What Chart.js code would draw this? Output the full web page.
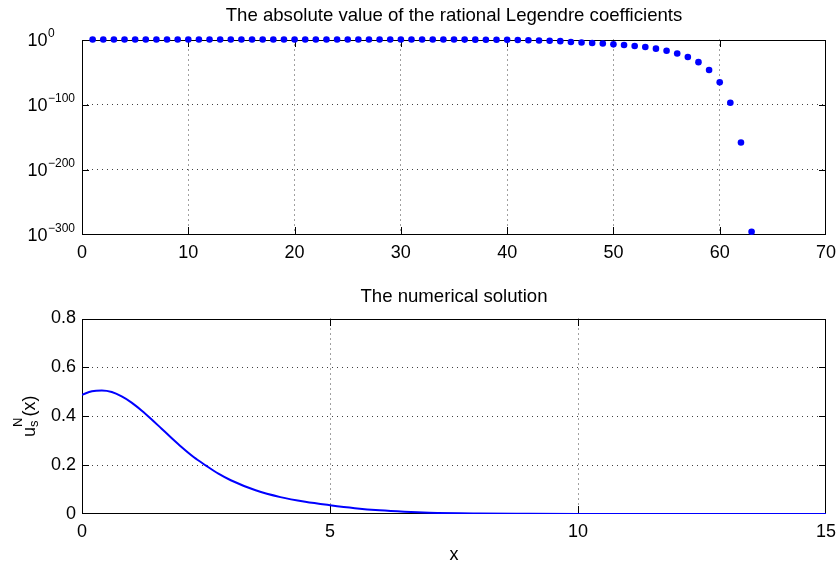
<!DOCTYPE html>
<html><head><meta charset="utf-8">
<script src="https://cdn.jsdelivr.net/npm/chart.js@4.4.1/dist/chart.umd.min.js"></script>
<style>
html,body{margin:0;padding:0;background:#fff;}
#wrap{position:relative;width:838px;height:568px;}
#c1{position:absolute;left:0;top:0;}
#c2{position:absolute;left:0;top:270px;}
</style></head><body>
<div id="wrap"><canvas id="c1" width="838" height="270"></canvas><canvas id="c2" width="838" height="298"></canvas></div>
<script>
// ---- data ----
const coefIndex = [1,2,3,4,5,6,7,8,9,10,11,12,13,14,15,16,17,18,19,20,21,22,23,24,25,26,27,28,29,30,31,32,33,34,35,36,37,38,39,40,41,42,43,44,45,46,47,48,49,50,51,52,53,54,55,56,57,58,59,60,61,62,63];
// log10 of |coefficient|
const coefLog10 = [0,0,0,0,0,0,0,0,0,0,0,0,0,0,0,0,0,0,0,0,0,0,0,0,0,0,0,0,0,0,0,0,0,0,0,-0.1,-0.2,-0.3,-0.4,-0.5,-0.8,-1.2,-1.6,-2.0,-2.5,-3.8,-4.6,-5.3,-6.1,-7.4,-8.4,-10,-11.5,-14,-17.3,-21.4,-26.8,-34.7,-46.7,-65.7,-97,-158,-295];
const coefXTicks = [0,10,20,30,40,50,60,70];
const coefYTicks = [-300,-200,-100,0];

const solX = [0,0.2,0.4,0.6,0.8,1.0,1.2,1.4,1.6,1.8,2.0,2.25,2.5,2.75,3.0,3.5,4.0,4.5,5.0,5.5,6.0,6.5,7.0,8.0,9.0,10,12,15];
const solU = [0.488,0.502,0.505,0.499,0.481,0.456,0.424,0.388,0.350,0.312,0.275,0.233,0.198,0.165,0.138,0.097,0.069,0.050,0.036,0.024,0.015,0.009,0.005,0.002,0.001,0.0005,0.0002,0.0001];
const solXTicks = [0,5,10,15];
const solYTicks = [0,0.2,0.4,0.6,0.8];

const titleTop = 'The absolute value of the rational Legendre coefficients';
const titleBottom = 'The numerical solution';
const xLabelBottom = 'x';

// ---- styling ----
const FONT = '"Liberation Sans", Arial, Helvetica, sans-serif';
Chart.defaults.font.family = FONT;
Chart.defaults.font.size = 18;
Chart.defaults.color = '#000';
const BLUE = '#0000ff';
const GRID = 'rgba(0,0,0,0.75)';

function gridColor(ctx){
  const n = ctx.scale.ticks.length;
  return (ctx.index === 0 || ctx.index === n - 1) ? 'rgba(0,0,0,0)' : GRID;
}
function fixX(h){ return s => { s.height = h; s.paddingLeft = 0; s.paddingRight = 0; }; }
function fixY(s){ s.width = 82; s.paddingTop = 0; s.paddingBottom = 0; }

const framePlugin = {
  id: 'frame',
  beforeDatasetsDraw(chart){
    const {ctx, chartArea: a, scales} = chart;
    const L = Math.round(a.left), R = Math.round(a.right) - 1, T = Math.round(a.top), B = Math.round(a.bottom) - 1;
    ctx.save();
    ctx.fillStyle = '#000';
    // four sides of the box
    ctx.fillRect(L, T, R - L + 1, 1);
    ctx.fillRect(L, B, R - L + 1, 1);
    ctx.fillRect(L, T, 1, B - T + 1);
    ctx.fillRect(R, T, 1, B - T + 1);
    // inward tick marks
    const tl = 7;
    scales.x.ticks.forEach(t => {
      const px = Math.min(R, Math.round(scales.x.getPixelForValue(t.value)));
      ctx.fillRect(px, B - tl, 1, tl);
      ctx.fillRect(px, T, 1, tl);
    });
    scales.y.ticks.forEach(t => {
      const py = Math.min(B, Math.round(scales.y.getPixelForValue(t.value)));
      ctx.fillRect(L, py, tl, 1);
      ctx.fillRect(R - tl + 1, py, tl, 1);
    });
    ctx.restore();
  }
};

const powerLabels = {
  id: 'powerLabels',
  afterDraw(chart){
    if (chart.canvas.id !== 'c1') return;
    const {ctx, scales} = chart;
    ctx.save();
    ctx.fillStyle = '#000';
    scales.y.ticks.forEach(t => {
      const py = scales.y.getPixelForValue(t.value);
      ctx.font = '18px ' + FONT;
      ctx.textAlign = 'right'; ctx.textBaseline = 'middle';
      ctx.fillText('10', 47.5, py + 1.5);
      ctx.font = '12px ' + FONT;
      ctx.textAlign = 'left';
      const e = t.value === 0 ? '0' : '\u2212' + Math.abs(t.value);
      ctx.fillText(e, 48, py - 6);
    });
    ctx.restore();
  }
};

const yLabelPlugin = {
  id: 'ylab',
  afterDraw(chart){
    if (chart.canvas.id !== 'c2') return;
    const {ctx, chartArea: a} = chart;
    const cy = (a.top + a.bottom) / 2;
    ctx.save();
    ctx.fillStyle = '#000';
    ctx.font = '18px ' + FONT;
    const wu = ctx.measureText('u').width;
    const wp = ctx.measureText('(x)').width;
    ctx.font = '13px ' + FONT;
    const wN = ctx.measureText('N').width;
    const ws = ctx.measureText('s').width;
    const wmid = Math.max(wN, ws) + 1;
    const total = wu + wmid + wp;
    ctx.translate(34.5, cy);
    ctx.rotate(-Math.PI/2);
    ctx.textBaseline = 'alphabetic'; ctx.textAlign = 'left';
    let x0 = -total/2;
    ctx.font = '18px ' + FONT;
    ctx.fillText('u', x0, 0);
    ctx.font = '13px ' + FONT;
    ctx.fillText('N', x0 + wu, -13);
    ctx.fillText('s', x0 + wu, 3);
    ctx.font = '18px ' + FONT;
    ctx.fillText('(x)', x0 + wu + wmid, 0);
    ctx.restore();
  }
};

// ---- top chart ----
new Chart(document.getElementById('c1'), {
  type: 'scatter',
  data: {
    datasets: [{
      data: coefIndex.map((n, i) => ({x: n, y: coefLog10[i]})),
      pointRadius: 3.3, pointBorderWidth: 0,
      pointBackgroundColor: BLUE, pointBorderColor: BLUE,
      showLine: false, clip: false
    }]
  },
  options: {
    responsive: false, animation: false, devicePixelRatio: 1,
    layout: {padding: {left: 0, right: 12, top: 0, bottom: 0}},
    plugins: {
      legend: {display: false}, tooltip: {enabled: false},
      title: {display: true, fullSize: false, text: titleTop, font: {size: 18.6, weight: 'normal'}, color: '#000', padding: {top: 5, bottom: 12.2}}
    },
    scales: {
      x: {
        type: 'linear', min: coefXTicks[0], max: coefXTicks[coefXTicks.length-1],
        afterBuildTicks: s => { s.ticks = coefXTicks.map(v => ({value: v})); },
        ticks: {padding: 7, maxRotation: 0, font: {size: 18}},
        grid: {color: gridColor, drawTicks: false, lineWidth: 1},
        border: {display: false, dash: [1, 4]},
        afterFit: fixX(35)
      },
      y: {
        type: 'linear', min: coefYTicks[0], max: coefYTicks[coefYTicks.length-1],
        afterBuildTicks: s => { s.ticks = coefYTicks.map(v => ({value: v})); },
        ticks: {display: false},
        grid: {color: gridColor, drawTicks: false, lineWidth: 1},
        border: {display: false, dash: [1, 4]},
        afterFit: fixY
      }
    }
  },
  plugins: [framePlugin, powerLabels]
});

// ---- bottom chart ----
new Chart(document.getElementById('c2'), {
  type: 'line',
  data: {
    datasets: [{
      data: solX.map((x, i) => ({x: x, y: solU[i]})),
      borderColor: BLUE, borderWidth: 2, pointRadius: 0,
      cubicInterpolationMode: 'monotone', fill: false
    }]
  },
  options: {
    responsive: false, animation: false, devicePixelRatio: 1,
    layout: {padding: {left: 0, right: 12, top: 0, bottom: 0}},
    plugins: {
      legend: {display: false}, tooltip: {enabled: false},
      title: {display: true, fullSize: false, text: titleBottom, font: {size: 18.6, weight: 'normal'}, color: '#000', padding: {top: 16, bottom: 10.2}}
    },
    scales: {
      x: {
        type: 'linear', min: solXTicks[0], max: solXTicks[solXTicks.length-1],
        afterBuildTicks: s => { s.ticks = solXTicks.map(v => ({value: v})); },
        ticks: {padding: 7, maxRotation: 0, font: {size: 18}},
        grid: {color: gridColor, drawTicks: false, lineWidth: 1},
        border: {display: false, dash: [1, 4]},
        title: {display: true, text: xLabelBottom, font: {size: 18}, color: '#000', padding: {top: 0, bottom: 2}},
        afterFit: fixX(54)
      },
      y: {
        type: 'linear', min: solYTicks[0], max: solYTicks[solYTicks.length-1],
        afterBuildTicks: s => { s.ticks = solYTicks.map(v => ({value: v})); },
        ticks: {padding: 6, font: {size: 18}, callback: v => String(Math.round(v*10)/10)},
        grid: {color: gridColor, drawTicks: false, lineWidth: 1},
        border: {display: false, dash: [1, 4]},
        afterFit: fixY
      }
    }
  },
  plugins: [framePlugin, yLabelPlugin]
});
</script>
</body></html>
